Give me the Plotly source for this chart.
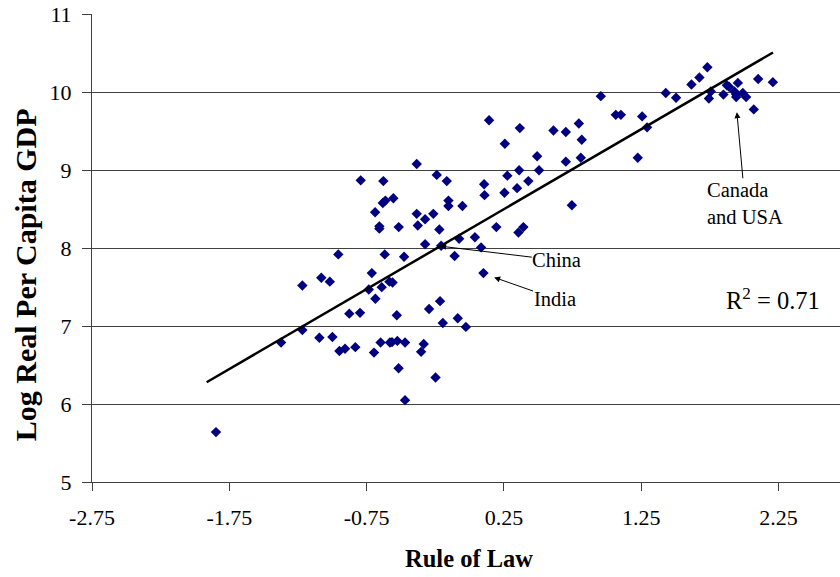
import plotly.graph_objects as go

# Rule of Law index vs log real per-capita GDP
rule_of_law = [
    -0.793, -0.628, -0.385, -0.555, -0.632, -0.613, -0.688, -0.385, -0.657, -0.657,
    -0.516, -0.377, -0.956, -0.618, -0.477, -1.218, -1.080, -1.018, -0.712, -0.640,
    -0.584, -0.561, -0.734, -0.686, -0.876, -0.798, -0.530, -1.373, -1.218, -1.094,
    -0.999, -0.948, -0.907, -0.832, -0.696, -0.648, -0.580, -0.565, -0.526, -0.470,
    -0.517, -0.470, -1.847, -0.353, -0.334, -0.248, -0.295, -0.215, -0.195, -0.086,
    -0.027, 0.101, -0.207, -0.324, -0.109, 0.084, -0.076, 0.039, -0.220, -0.264,
    -0.324, -0.052, -0.154, -0.154, 0.109, 0.106, -0.166, -0.239, 0.142, 0.366,
    0.257, 0.611, 0.701, 0.796, 0.817, 0.492, 0.701, 0.810, 0.956, 1.065,
    1.102, 1.257, 1.293, 1.225, 1.429, 1.504, 1.616, 1.674, 1.732, 1.757,
    1.743, 1.849, 1.874, 1.890, 1.954, 1.929, 1.942, 1.942, 1.990, 2.014,
    2.070, 2.102, 2.209, 0.361, 0.275, 0.428, 0.506, 0.254, 0.346, 0.745,
    0.195, 0.392, 0.356,
]
log_gdp = [
    8.87, 8.86, 9.08, 8.64, 8.58, 8.61, 8.46, 8.44, 8.28, 8.25,
    8.27, 8.29, 7.92, 7.92, 7.89, 7.52, 7.62, 7.57, 7.68, 7.50,
    7.57, 7.56, 7.47, 7.35, 7.16, 7.17, 7.14, 6.79, 6.95, 6.85,
    6.86, 6.68, 6.71, 6.73, 6.66, 6.79, 6.79, 6.795, 6.81, 6.79,
    6.46, 6.05, 5.64, 6.67, 6.77, 6.34, 7.22, 7.32, 7.04, 7.10,
    6.99, 7.68, 8.03, 8.05, 7.90, 8.01, 8.12, 8.14, 8.24, 8.44,
    8.37, 8.54, 8.61, 8.54, 8.68, 8.82, 8.86, 8.94, 9.64, 9.54,
    9.34, 9.51, 9.49, 9.60, 9.39, 9.18, 9.11, 9.16, 9.95, 9.71,
    9.71, 9.69, 9.55, 9.16, 9.99, 9.93, 10.10, 10.19, 10.32, 10.01,
    9.92, 9.97, 10.09, 10.07, 10.12, 10.01, 9.97, 9.94, 9.99, 9.94,
    9.78, 10.17, 10.13, 9.00, 8.93, 8.86, 9.00, 8.71, 8.77, 8.55,
    8.27, 8.27, 8.20,
]

# Fitted trend line end points
trend_x = [-1.915, 2.21]
trend_y = [6.28, 10.51]

x_tick_vals = [-2.75, -1.75, -0.75, 0.25, 1.25, 2.25]
x_tick_text = ["-2.75", "-1.75", "-0.75", "0.25", "1.25", "2.25"]
y_tick_vals = [5, 6, 7, 8, 9, 10, 11]
y_tick_text = ["5", "6", "7", "8", "9", "10", "11"]

FONT = "Liberation Serif, Times New Roman, serif"

fig = go.Figure()
fig.add_trace(go.Scatter(
    x=rule_of_law, y=log_gdp, mode="markers",
    marker=dict(symbol="diamond", size=8, color="#000080"),
    showlegend=False, hoverinfo="skip",
))
fig.add_trace(go.Scatter(
    x=trend_x, y=trend_y, mode="lines",
    line=dict(color="black", width=2.5),
    showlegend=False, hoverinfo="skip",
))

ann_font = dict(family=FONT, size=20.5, color="black")
annotations = [
    dict(x=-0.215, y=8.026, ax=0.635, ay=7.846, xref="x", yref="y", axref="x", ayref="y",
         text="China", showarrow=True, arrowhead=2, arrowsize=1.2, arrowwidth=1,
         arrowcolor="black", font=ann_font, borderpad=0),
    dict(x=0.179, y=7.625, ax=0.619, ay=7.353, xref="x", yref="y", axref="x", ayref="y",
         text="India", showarrow=True, arrowhead=2, arrowsize=1.2, arrowwidth=1,
         arrowcolor="black", font=ann_font, borderpad=0),
    dict(x=1.947, y=9.745, ax=2.007, ay=8.576, xref="x", yref="y", axref="x", ayref="y",
         text="Canada<br>and USA", align="left", showarrow=True, arrowhead=2,
         arrowsize=1.2, arrowwidth=1, arrowcolor="black", font=ann_font, borderpad=0),
    dict(x=2.213, y=7.351, xref="x", yref="y", text="R<sup>2</sup> = 0.71",
         xanchor="center", yanchor="middle",
         showarrow=False, font=dict(family=FONT, size=24.5, color="black")),
    dict(x=-0.0896, y=0.4439, xref="paper", yref="paper", text="<b>Log Real Per Capita GDP</b>",
         xanchor="center", yanchor="middle",
         textangle=-90, showarrow=False, font=dict(family=FONT, size=30, color="black")),
    dict(x=0.504, y=-0.1645, xref="paper", yref="paper", text="<b>Rule of Law</b>",
         xanchor="center", yanchor="middle",
         showarrow=False, font=dict(family=FONT, size=24.5, color="black")),
]

fig.update_layout(
    width=840, height=577, autosize=False,
    margin=dict(l=92, r=0, t=14, b=95, autoexpand=False),
    paper_bgcolor="white", plot_bgcolor="white",
    annotations=annotations,
    xaxis=dict(
        range=[-2.75, 2.698], tickvals=x_tick_vals, ticktext=x_tick_text,
        showgrid=False, zeroline=False, showline=True, linecolor="#404040", linewidth=1,
        ticks="outside", ticklen=8, tickcolor="#404040", automargin=False,
        ticklabelstandoff=8,
        tickfont=dict(family=FONT, size=22, color="black"),
    ),
    yaxis=dict(
        range=[5, 11.004], tickvals=y_tick_vals, ticktext=y_tick_text,
        showgrid=True, gridcolor="#404040", gridwidth=1, zeroline=False,
        showline=True, linecolor="#404040", linewidth=1, automargin=False,
        ticks="outside", ticklen=9, tickcolor="#404040", ticklabeloverflow="allow",
        ticklabelstandoff=6,
        tickfont=dict(family=FONT, size=22, color="black"),
    ),
)

# Remove the default page margin so the 840x577 figure fills the window exactly.
fig.write_html(
    "out.html",
    config={"displayModeBar": False},
    post_script="document.body.style.margin='0';document.body.style.overflow='hidden';",
)
